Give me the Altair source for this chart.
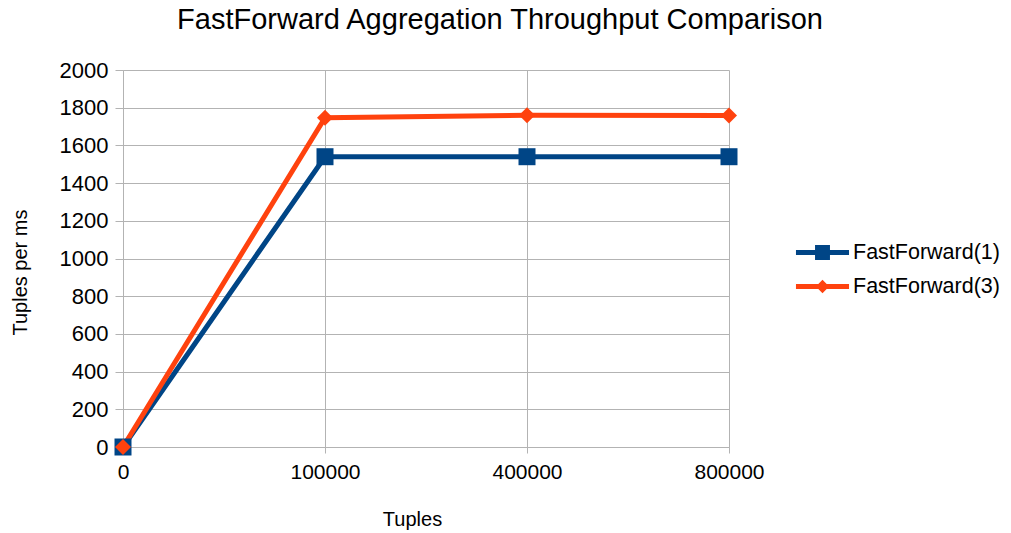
import altair as alt
import pandas as pd

tuples = ["0", "100000", "400000", "800000"]
ff1 = [0, 1540, 1540, 1540]
ff3 = [0, 1747, 1760, 1759]
series_names = ["FastForward(1)", "FastForward(3)"]
colors = ["#004586", "#ff420e"]
y_ticks = list(range(0, 2001, 200))

rows = []
for t, v in zip(tuples, ff1):
    rows.append({"Tuples": t, "value": v, "series": series_names[0]})
for t, v in zip(tuples, ff3):
    rows.append({"Tuples": t, "value": v, "series": series_names[1]})
df = pd.DataFrame(rows)

FONT = "Liberation Sans"

x_enc = alt.X("Tuples:N", sort=tuples,
              scale=alt.Scale(type="point", padding=0),
              axis=alt.Axis(title="Tuples", labelAngle=0, grid=True,
                            titleX=289, titleY=72, titleBaseline="middle",
                            titleFontSize=20, labelFontSize=21,
                            tickSize=6, labelPadding=8))
y_enc = alt.Y("value:Q", scale=alt.Scale(domain=[0, 2000], nice=False),
              axis=alt.Axis(title="Tuples per ms", values=y_ticks, format="d",
                            titleX=-103, titleY=202, titleBaseline="middle",
                            titleFontSize=20, labelFontSize=22,
                            tickSize=8, labelPadding=7))

base = alt.Chart(df)

layers = []
for name, col in zip(series_names, colors):
    layers.append(
        base.transform_filter(alt.datum.series == name)
        .mark_line(color=col, strokeWidth=5, clip=False)
        .encode(x=x_enc, y=y_enc)
    )
layers.append(
    base.transform_filter(alt.datum.series == series_names[0])
    .mark_point(shape="square", filled=True, size=289, opacity=1, color=colors[0], clip=False)
    .encode(x=x_enc, y=y_enc)
)
layers.append(
    base.transform_filter(alt.datum.series == series_names[1])
    .mark_point(shape="diamond", filled=True, size=256, opacity=1, color=colors[1], clip=False)
    .encode(x=x_enc, y=y_enc)
)

sq_path = "M-1.6,-0.15H1.6V0.15H-1.6Z M-0.45,-0.45H0.45V0.45H-0.45Z"
dm_path = "M-1.6,-0.15H1.6V0.15H-1.6Z M0,-0.4L0.4,0L0,0.4L-0.4,0Z"

leg = dict(title=None, orient="none", legendX=682, legendY=165,
           labelFontSize=21.5, labelFont=FONT, labelColor="#000000",
           symbolSize=1100, labelOffset=13, rowPadding=6,
           padding=0, symbolOpacity=1)

legend_layer = (
    base.mark_point(filled=True, opacity=0, size=1100)
    .encode(
        x=x_enc, y=y_enc,
        color=alt.Color("series:N", scale=alt.Scale(domain=series_names, range=colors),
                        legend=alt.Legend(**leg)),
        shape=alt.Shape("series:N", scale=alt.Scale(domain=series_names, range=[sq_path, dm_path]),
                        legend=alt.Legend(**leg)),
    )
)
layers.append(legend_layer)

chart = (
    alt.layer(*layers)
    .properties(
        width=606, height=377,
        title=alt.TitleParams("FastForward Aggregation Throughput Comparison",
                              anchor="middle", dx=74, fontSize=29, font=FONT,
                              fontWeight="normal", color="#000000", offset=24),
        autosize=alt.AutoSizeParams(type="none"),
        padding={"left": 115, "top": 62, "right": 274, "bottom": 85},
    )
    .configure_view(stroke=None)
    .configure_axis(
        domainColor="#b3b3b3", gridColor="#b3b3b3", tickColor="#b3b3b3",
        labelFont=FONT, titleFont=FONT, labelColor="#000000", titleColor="#000000",
        titleFontWeight="normal", domainWidth=1, gridWidth=1,
    )
)

chart.save("out.html", embed_options={"renderer": "svg", "actions": False})
